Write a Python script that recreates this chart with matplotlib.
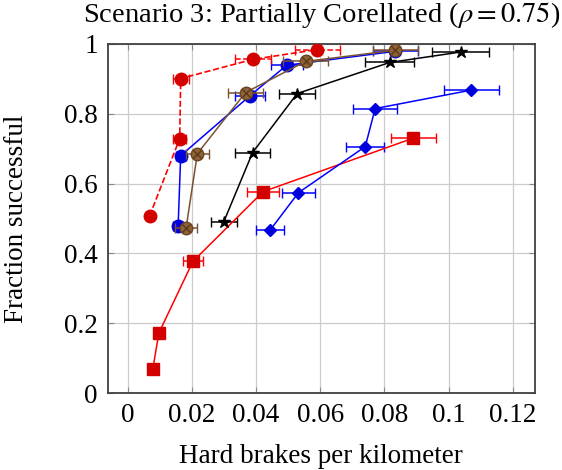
import matplotlib.pyplot as plt

plt.rcParams['font.family'] = ['Liberation Serif', 'DejaVu Serif']
plt.rcParams['mathtext.fontset'] = 'stix'

# red squares (solid line)
sq_x = [0.0078, 0.0097, 0.0203, 0.0422, 0.0889]
sq_y = [0.068, 0.172, 0.377, 0.577, 0.730]
sq_e = [0.0, 0.0, 0.003, 0.005, 0.007]

# blue diamonds
dia_x = [0.0443, 0.0532, 0.0740, 0.0771, 0.1071]
dia_y = [0.466, 0.574, 0.706, 0.815, 0.868]
dia_e = [0.0043, 0.0052, 0.0060, 0.0068, 0.0086]

# black stars
star_x = [0.0299, 0.0389, 0.0528, 0.0816, 0.1037]
star_y = [0.490, 0.689, 0.858, 0.947, 0.977]
star_e = [0.0040, 0.0055, 0.0057, 0.0077, 0.0088]

# blue circles
bc_x = [0.0157, 0.0165, 0.0380, 0.0495, 0.0833]
bc_y = [0.478, 0.680, 0.851, 0.939, 0.979]
bc_e = [0.0015, 0.0015, 0.0047, 0.0050, 0.0070]

# brown circles
br_x = [0.0182, 0.0217, 0.0367, 0.0554, 0.0833]
br_y = [0.474, 0.686, 0.861, 0.950, 0.982]
br_e = [0.0035, 0.0035, 0.0055, 0.0070, 0.0070]

# red circles (dashed line)
rc_x = [0.0068, 0.0162, 0.0165, 0.0390, 0.0590]
rc_y = [0.507, 0.729, 0.901, 0.956, 0.984]
rc_e = [0.0010, 0.0020, 0.0025, 0.0055, 0.0070]

fig = plt.figure(figsize=(5.62, 4.70), dpi=100)
ax = fig.add_axes([0.1913, 0.1638, 0.7607, 0.7426])

ax.grid(True, color='#cccccc', lw=0.9)
ax.set_axisbelow(True)

cap = 3.5
ax.errorbar(sq_x, sq_y, xerr=sq_e, color='red', lw=1.1, marker='s', ms=8.5,
            mfc='#d40000', mec='#d40000', capsize=cap, elinewidth=1.1, zorder=3)
ax.errorbar(dia_x, dia_y, xerr=dia_e, color='blue', lw=1.1, marker='D', ms=6,
            mfc='#0000dd', mec='#0000dd', capsize=cap, elinewidth=1.1, zorder=3)
ax.errorbar(star_x, star_y, xerr=star_e, color='black', lw=1.1, marker='*', ms=9,
            mfc='black', mec='black', capsize=cap, elinewidth=1.1, zorder=3)
ax.errorbar(bc_x, bc_y, xerr=bc_e, color='blue', lw=1.1, marker='o', ms=9,
            mfc='#0000dd', mec='#0000dd', capsize=cap, elinewidth=1.1, zorder=3)
ax.errorbar(br_x, br_y, xerr=br_e, color='#7a5230', lw=1.1, marker='o', ms=9,
            mfc='#8f6236', mec='#6b4423', capsize=cap, elinewidth=1.1, zorder=4)
ax.plot(br_x, br_y, ls='none', marker='x', ms=6, mew=1.0, color='#5a3a1c', zorder=5)
eb = ax.errorbar(rc_x, rc_y, xerr=rc_e, color='red', lw=1.2, ls='--', marker='o', ms=9,
                 mfc='#d40000', mec='#d40000', capsize=cap, elinewidth=1.1, zorder=4)
eb[-1][0].set_linestyle('--')

ax.set_xlim(-0.0063, 0.1269)
ax.set_ylim(0, 1)
ax.set_xticks([0, 0.02, 0.04, 0.06, 0.08, 0.1, 0.12])
ax.set_xticklabels(['0', '0.02', '0.04', '0.06', '0.08', '0.1', '0.12'])
ax.set_yticks([0, 0.2, 0.4, 0.6, 0.8, 1])
ax.set_yticklabels(['0', '0.2', '0.4', '0.6', '0.8', '1'])
ax.tick_params(direction='in', length=4, color='#888888', labelsize=19.5,
               top=True, right=True, pad=7)
for s in ax.spines.values():
    s.set_color('#404040')
    s.set_linewidth(1.3)

ax.set_xlabel('Hard brakes per kilometer', fontsize=19.5, labelpad=12)
ax.set_ylabel('Fraction successful', fontsize=19.5)
ax.yaxis.set_label_coords(-0.183, 0.5)
ax.set_title(r'Scenario 3: Partially Corellated ($\rho = 0.75$)', fontsize=20.5, pad=16)

fig.savefig('out.png', dpi=100)
plt.close(fig)
